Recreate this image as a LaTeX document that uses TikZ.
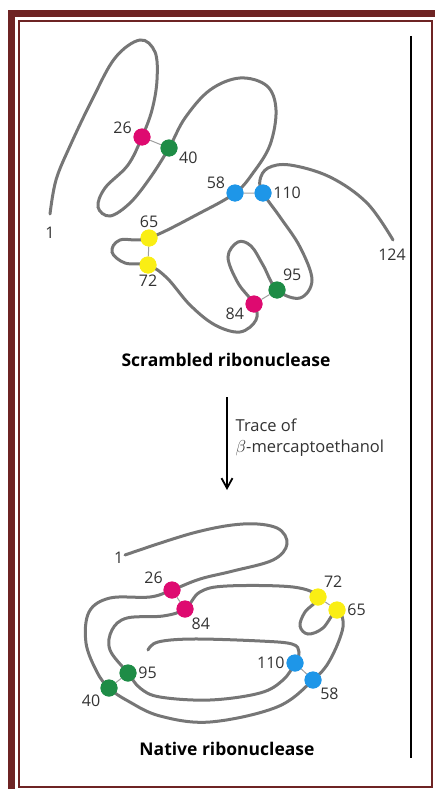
\documentclass[tikz,border=0pt]{standalone}
\usepackage{fontspec}
\setsansfont{Open Sans}
\usetikzlibrary{arrows.meta}
\definecolor{maroon}{RGB}{110,36,36}
\definecolor{chaingray}{RGB}{118,118,118}
\definecolor{cysmag}{RGB}{222,10,112}
\definecolor{cysgreen}{RGB}{30,140,70}
\definecolor{cysblue}{RGB}{30,150,232}
\definecolor{cysyellow}{RGB}{250,238,20}

\begin{document}
\begin{tikzpicture}[x=1pt, y=-1pt,
	chain/.style = {draw=chaingray, line width=3pt, line cap=round},
	bond/.style = {draw=chaingray!70, line width=1pt},
	cys/.style = {circle, inner sep=0pt, minimum size=17pt},
	lbl/.style = {font=\sffamily\fontsize{16}{18}\selectfont, text=black!80, inner sep=1.5pt},
	title/.style = {font=\sffamily\bfseries\fontsize{17.5}{20}\selectfont}]
	\useasboundingbox (0,0) rectangle (435,789);
	\fill[maroon] (8,10) rectangle (15,789);
	\fill[maroon] (8,10) rectangle (435,17);
	\draw[maroon, line width=2pt] (19,21) rectangle (432,787);
	\draw[line width=2pt] (411,36) -- (411,758);

	% scrambled chain
	\node[cys, fill=cysmag] (sc26) at (142,137) [label={[lbl]170:26}] {};
	\node[cys, fill=cysgreen] (sc40) at (169,148) [label={[lbl]-15:40}] {};
	\node[cys, fill=cysblue] (sc58) at (235,193) [label={[lbl]160:58}] {};
	\node[cys, fill=cysblue] (sc110) at (263,193) [label={[lbl]0:110}] {};
	\node[cys, fill=cysyellow] (sc65) at (149,238) [label={[lbl]90:65}] {};
	\node[cys, fill=cysyellow] (sc72) at (148,265) [label={[lbl]-90:72}] {};
	\node[cys, fill=cysgreen] (sc95) at (277,290) [label={[lbl]60:95}] {};
	\node[cys, fill=cysmag] (sc84) at (254,304) [label={[lbl]195:84}] {};
	\coordinate[label={[lbl, yshift=-11pt]below:1}] (sc1) at (50,214);
	\coordinate[label={[lbl, xshift=-1pt, yshift=-7pt]below:124}] (sc124) at (393,240);
	\path[chain] plot[smooth, tension=0.6] coordinates {(sc1) (56,180) (70,146) (92,100) (115,58) (140,40) (155,52) (157,80) (152,110)
		(sc26.center) (128,165) (105,188) (98,207) (110,216) (130,203) (150,178) (sc40.center) (185,118) (210,90) (240,78) (267,86)
		(276,110) (270,145) (253,173) (sc58.center) (200,213) (sc65.center) (120,240) (112,252) (125,263) (sc72.center) (167,278)
		(190,305) (215,325) (240,332) (256,320) (sc84.center) (238,283) (228,257) (238,242) (251,246) (263,265) (sc95.center)
		(300,298) (312,280) (300,247) (280,217) (sc110.center) (260,180) (268,168) (290,165) (330,177) (367,203) (sc124)};
	\path[bond] (sc26) -- (sc40) (sc58) -- (sc110) (sc65) -- (sc72) (sc84) -- (sc95);
	\node[cys, fill=cysmag] at (sc26) {};
	\node[cys, fill=cysgreen] at (sc40) {};
	\node[cys, fill=cysblue] at (sc58) {};
	\node[cys, fill=cysblue] at (sc110) {};
	\node[cys, fill=cysyellow] at (sc65) {};
	\node[cys, fill=cysyellow] at (sc72) {};
	\node[cys, fill=cysgreen] at (sc95) {};
	\node[cys, fill=cysmag] at (sc84) {};
	\node[title] (scr) at (226,360) {Scrambled ribonuclease};

	\coordinate (from) at (227,397);
	\coordinate (to) at (227,490);
	\draw[line width=1.8pt, -{Straight Barb[length=10pt, width=11pt]}] (from) -- (to);
	\node[lbl, anchor=north west, align=left, font=\sffamily\fontsize{16.5}{21}\selectfont] (trace) at (234,417)
		{Trace of\\$\beta$-mercaptoethanol};

	% native chain
	\node[cys, fill=cysmag] (na26) at (172,590) [label={[lbl]150:26}] {};
	\node[cys, fill=cysmag] (na84) at (185,609) [label={[lbl]-55:84}] {};
	\node[cys, fill=cysyellow] (na72) at (318,597) [label={[lbl]60:72}] {};
	\node[cys, fill=cysyellow] (na65) at (337,610) [label={[lbl]0:65}] {};
	\node[cys, fill=cysblue] (na110) at (295,663) [label={[lbl]180:110}] {};
	\node[cys, fill=cysblue] (na58) at (313,680) [label={[lbl]-50:58}] {};
	\node[cys, fill=cysgreen] (na95) at (128,673) [label={[lbl]0:95}] {};
	\node[cys, fill=cysgreen] (na40) at (109,688) [label={[lbl]215:40}] {};
	\coordinate[label={[lbl, yshift=-3pt]left:1}] (na1) at (125,555);
	\coordinate (na124) at (148,650);
	\path[chain] plot[smooth, tension=0.6] coordinates {(na1) (193,533) (243,524) (277,528) (287,544) (273,560) (233,571)
		(200,579) (na26.center) (150,597) (110,598) (89,612) (86,643) (97,672) (na40.center) (128,701) (160,716) (210,722)
		(277,707) (na58.center) (330,660) (343,627) (na65.center) (323,628) (308,634) (300,626) (305,612) (na72.center)
		(293,587) (227,586) (200,592) (na84.center) (163,616) (127,618) (112,630) (110,650) (na95.center) (140,688) (160,697)
		(210,700) (260,693) (283,680) (na110.center) (299,652) (292,644) (260,641) (193,639) (158,642) (na124)};
	\path[bond] (na26) -- (na84) (na72) -- (na65) (na110) -- (na58) (na95) -- (na40);
	\node[cys, fill=cysmag] at (na26) {};
	\node[cys, fill=cysmag] at (na84) {};
	\node[cys, fill=cysyellow] at (na72) {};
	\node[cys, fill=cysyellow] at (na65) {};
	\node[cys, fill=cysblue] at (na110) {};
	\node[cys, fill=cysblue] at (na58) {};
	\node[cys, fill=cysgreen] at (na95) {};
	\node[cys, fill=cysgreen] at (na40) {};
	\node[title] (nat) at (227,749) {Native ribonuclease};
\end{tikzpicture}
\end{document}
